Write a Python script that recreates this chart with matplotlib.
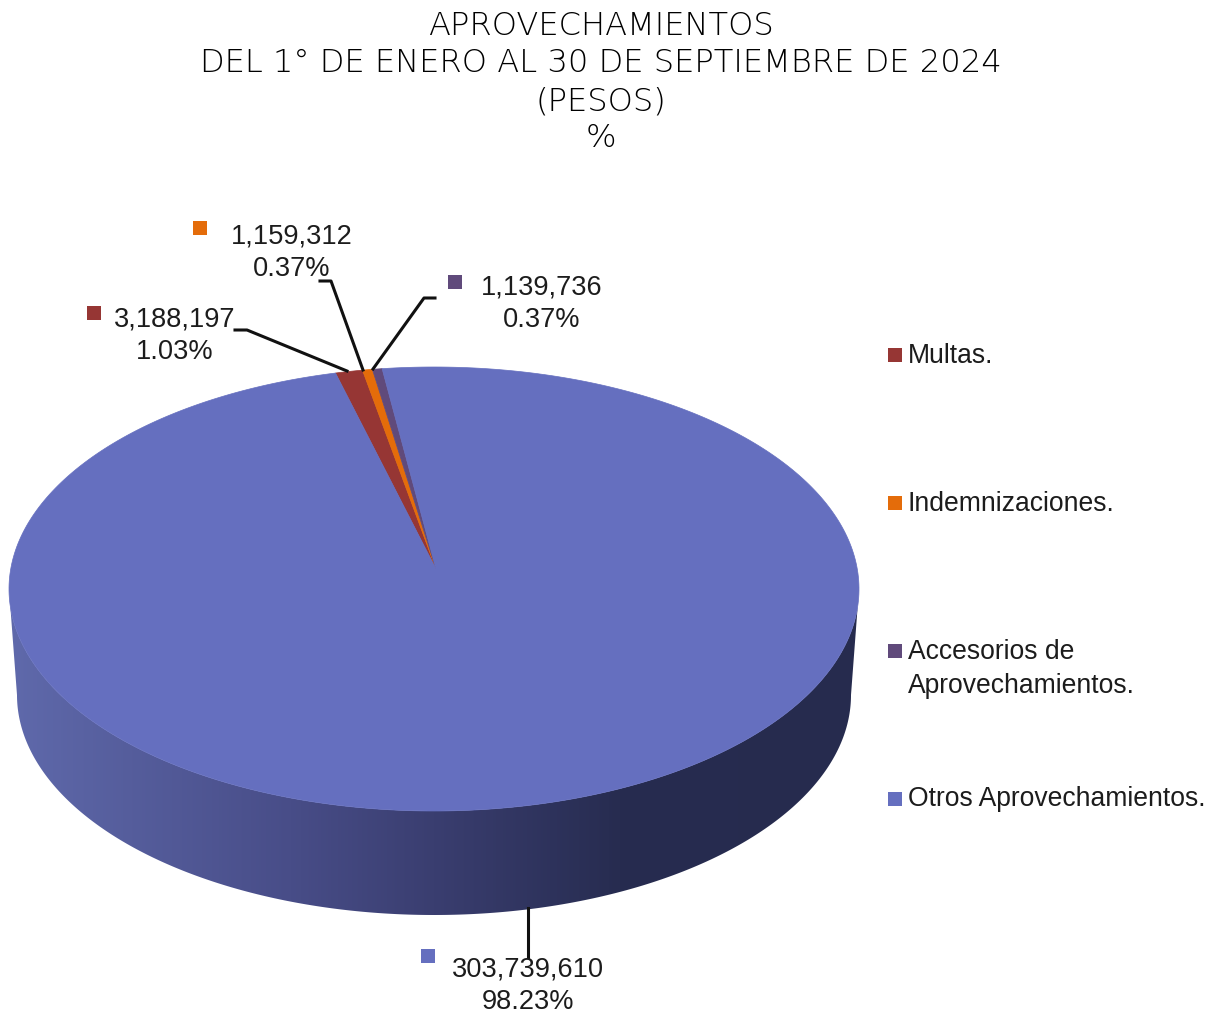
import numpy as np
import matplotlib
matplotlib.use('Agg')
import matplotlib.pyplot as plt
from matplotlib.colors import LinearSegmentedColormap
from matplotlib.patches import Polygon

# data
categories = ['Multas.', 'Indemnizaciones.', 'Accesorios de\nAprovechamientos.', 'Otros Aprovechamientos.']
values = [3188197, 1159312, 1139736, 303739610]
percents = ['1.03%', '0.37%', '0.37%', '98.23%']
colors = ['#963634', '#E46C0A', '#604A7B', '#656FBF']
title_lines = ['APROVECHAMIENTOS', 'DEL 1° DE ENERO AL 30 DE SEPTIEMBRE DE 2024', '(PESOS)', '%']

W, H = 1217, 1015
fig = plt.figure(figsize=(W/100, H/100), dpi=100)
ax = fig.add_axes([0, 0, 1, 1])
ax.set_xlim(0, W)
ax.set_ylim(H, 0)
ax.axis('off')

plt.rcParams['font.family'] = ['Liberation Sans']

# top face and bottom rim of the disc
cx, cy, rx, ry = 434, 589, 425, 222
bx, by, brx, bry = 434, 695, 417, 220
apex = (436, 569)
start = -13.4


def rim(a1, a2, x0=cx, y0=cy, a=rx, b=ry, n=400):
    t = np.radians(np.linspace(a1, a2, n))
    return np.column_stack([x0 + a*np.sin(t), y0 - b*np.cos(t)])


# side wall with the shading going dark to the right
wall = np.vstack([rim(90, 270), rim(270, 90, bx, by, brx, bry)])
shade = LinearSegmentedColormap.from_list('wall', [(0, '#5F69AB'), (0.33, '#484D88'), (0.5, '#3A3E70'),
                                                   (0.72, '#272C50'), (1, '#262B4E')])
im = ax.imshow(np.linspace(0, 1, 600)[None, :], extent=(10, 858, 920, 590), aspect='auto', cmap=shade, zorder=1)
clip = Polygon(wall, closed=True, transform=ax.transData, fc='none', ec='none')
ax.add_patch(clip)
im.set_clip_path(clip)
ax.set_xlim(0, W)
ax.set_ylim(H, 0)

# slices
shares = np.array(values) / sum(values) * 360
a = start
for v, c in zip(shares, colors):
    pts = np.vstack([[apex], rim(a, a + v)])
    ax.add_patch(Polygon(pts, closed=True, fc=c, ec=c, lw=0.5, zorder=2))
    a += v

# leader lines
ax.plot([235, 247, 347], [330, 330, 371], color='#111111', lw=2.2, zorder=3)
ax.plot([320, 331, 363], [281, 281, 370], color='#111111', lw=2.2, zorder=3)
ax.plot([435, 424, 373], [298, 298, 369], color='#111111', lw=2.2, zorder=3)
ax.plot([528, 528], [908, 957], color='#111111', lw=2.2, zorder=3)

# data labels
lab_x = [175, 292, 542, 528]
lab_y = [336, 253, 304, 986]
key_x = [94, 200, 455, 428]
key_y = [313, 228, 282, 956]
for i in range(4):
    ax.text(lab_x[i], lab_y[i], f'{values[i]:,}\n{percents[i]}', ha='center', va='center', fontsize=19.6,
            color='#1c1c1c', linespacing=1.32, zorder=4)
    ax.plot(key_x[i], key_y[i], 's', color=colors[i], ms=10.3, mew=0, zorder=4)

# legend
leg_y = [356, 504, 669, 799]
key_leg_y = [355, 503, 651, 799]
for i in range(4):
    ax.plot(895, key_leg_y[i], 's', color=colors[i], ms=10.3, mew=0)
    ax.text(908, leg_y[i], categories[i], ha='left', va='center', fontsize=19.1, color='#1c1c1c', linespacing=1.36)

# title
title_y = [26, 63, 101, 138]
for s, y in zip(title_lines, title_y):
    ax.text(601, y, s, ha='center', va='center', fontsize=23.1, family='DejaVu Sans', color='black',
            fontweight='ultralight')

fig.savefig('out.png', dpi=100)
